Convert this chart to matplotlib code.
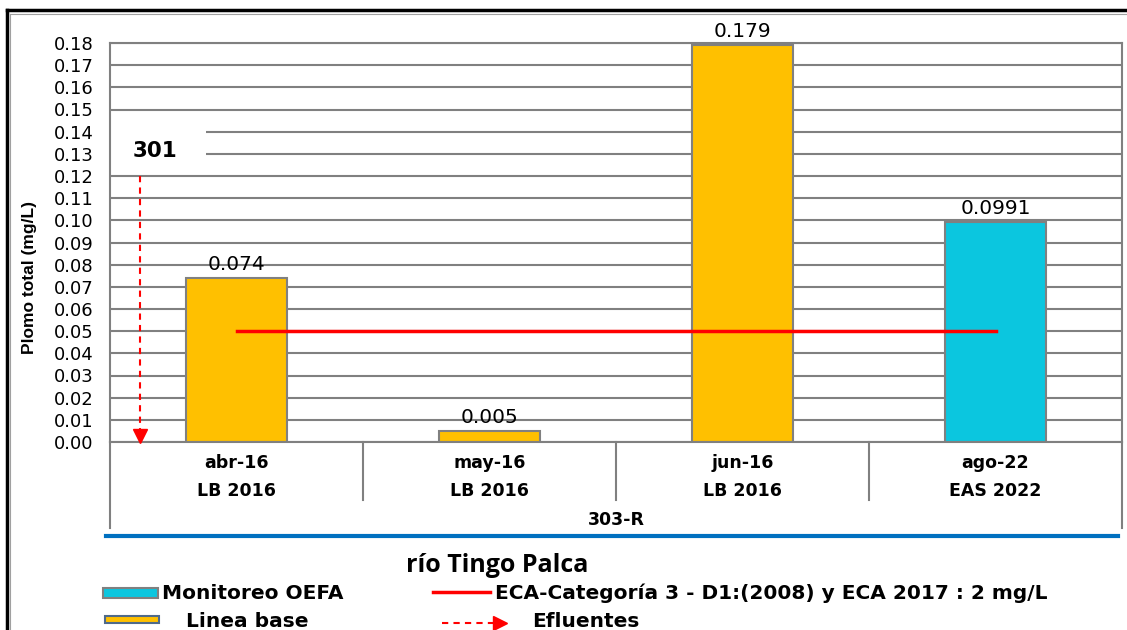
import numpy as np
import matplotlib
matplotlib.use("Agg")
import matplotlib.pyplot as plt
from matplotlib import font_manager, transforms
from matplotlib.lines import Line2D
from matplotlib.patches import Rectangle

# ---------------- data ----------------
months = ["abr-16", "may-16", "jun-16", "ago-22"]
groups = ["LB 2016", "LB 2016", "LB 2016", "EAS 2022"]
station = "303-R"
values = [0.074, 0.005, 0.179, 0.0991]
value_labels = ["0.074", "0.005", "0.179", "0.0991"]
series = ["Linea base", "Linea base", "Linea base", "Monitoreo OEFA"]
eca_value = 0.05
eca_label = "ECA-Categoría 3 - D1:(2008) y ECA 2017 : 2 mg/L"
effluent_label = "Efluentes"
effluent_station = "301"
effluent_top = 0.12
river = "río Tingo Palca"
ylabel = "Plomo total (mg/L)"
yticks = np.round(np.arange(0, 0.1801, 0.01), 2)

series_colors = {"Linea base": "#FFC000", "Monitoreo OEFA": "#0BC6DF"}

# ---------------- fonts ----------------
avail = {f.name for f in font_manager.fontManager.ttflist}
narrow = "Liberation Sans Narrow" if "Liberation Sans Narrow" in avail else "Liberation Sans"
sans = "Liberation Sans"
wide = "DejaVu Sans"
title_font = "Open Sans" if "Open Sans" in avail else "Lato"

W, H = 1127, 630
fig = plt.figure(figsize=(W / 100, H / 100), dpi=100)
fig.patch.set_facecolor("white")


def fx(x):
    return x / W


def fy(y):
    return 1 - y / H


ax = fig.add_axes([fx(110), fy(442), fx(1122) - fx(110), fy(43) - fy(442)])
x = np.arange(len(months))
colors = [series_colors[s] for s in series]
ax.bar(x, values, width=0.4, color=colors, edgecolor="#808080", linewidth=1.5, zorder=2)

ax.set_xlim(-0.5, len(months) - 0.5)
ax.set_ylim(0, 0.18)
ax.set_yticks(yticks)
ax.set_yticklabels([f"{t:.2f}" for t in yticks], fontsize=13, family=wide)
ax.tick_params(axis="y", length=0, pad=12)
ax.set_xticks([])
ax.set_axisbelow(True)
ax.yaxis.grid(True, color="#808080", linewidth=1.5)
for sp in ax.spines.values():
    sp.set_color("#808080")
    sp.set_linewidth(1.5)

ax.set_ylabel(ylabel, fontsize=14 if narrow != sans else 12.5, fontweight="bold",
              family=narrow)
ax.yaxis.set_label_coords((fx(37) - fx(110)) / (fx(1122) - fx(110)),
                          (fy(277) - fy(442)) / (fy(43) - fy(442)))

# value labels
for xi, v, lab in zip(x, values, value_labels):
    ax.annotate(lab, (xi, v), xytext=(0, 3), textcoords="offset points",
                ha="center", va="bottom", fontsize=14.5, family=wide, zorder=5)

# ECA line
ax.plot([x[0], x[-1]], [eca_value, eca_value], color="#FF0000", linewidth=2.5, zorder=3)

# effluent arrow and label
ex = -0.5 + 30 / 253
ax.plot([ex, ex], [effluent_top, 0.004], color="#FF0000", linestyle=(0, (3, 2.5)),
        linewidth=1.5, zorder=3)
ax.plot([ex], [0.0025], marker="v", color="#FF0000", markersize=10, zorder=4,
        clip_on=False)
ax.add_patch(Rectangle((-0.5, 0.1245), (206 - 110) / 253, 0.021, facecolor="white",
                       edgecolor="none", zorder=1))
ax.text(-0.5 + 45 / 253, 0.1313, effluent_station, ha="center", va="center",
        fontsize=15.5, fontweight="bold", family=wide, zorder=5)

# category labels below axis
bt = transforms.blended_transform_factory(ax.transData, fig.transFigure)
for xi, m, g in zip(x, months, groups):
    ax.text(xi, fy(463), m, transform=bt, ha="center", va="center", fontsize=12.5,
            fontweight="bold", family=wide)
    ax.text(xi, fy(491), g, transform=bt, ha="center", va="center", fontsize=12.5,
            fontweight="bold", family=wide)
ax.text((x[0] + x[-1]) / 2, fy(520), station, transform=bt, ha="center", va="center",
        fontsize=12.5, fontweight="bold", family=wide)
for b in np.arange(0.5, len(months) - 1, 1.0):
    ax.add_line(Line2D([b, b], [fy(442), fy(500)], transform=bt, color="#808080",
                       linewidth=1.5, clip_on=False))
for b in [-0.5, len(months) - 0.5]:
    ax.add_line(Line2D([b, b], [fy(442), fy(528)], transform=bt, color="#808080",
                       linewidth=1.5, clip_on=False))

# blue river line
fig.add_artist(Line2D([fx(106), fx(1118)], [fy(536), fy(536)], color="#0070C0", linewidth=3))

# outer frame
fig.add_artist(Line2D([fx(7), fx(1127)], [fy(10), fy(10)], color="black", linewidth=2.5))
fig.add_artist(Line2D([fx(7), fx(7)], [fy(10), fy(630)], color="black", linewidth=2.5))
fig.add_artist(Line2D([fx(10), fx(1127)], [fy(13.5), fy(13.5)], color="#A0A0A0", linewidth=0.8))
fig.add_artist(Line2D([fx(10), fx(10)], [fy(13.5), fy(630)], color="#A0A0A0", linewidth=0.8))

# legend (manual)
fig.text(fx(497), fy(566), river, ha="center", va="center", fontsize=18,
         fontweight="bold", family=title_font)
fig.add_artist(Rectangle((fx(103), fy(598)), fx(55), fy(588) - fy(598),
                         facecolor=series_colors["Monitoreo OEFA"], edgecolor="#808080",
                         linewidth=1.5))
fig.text(fx(162), fy(593.5), "Monitoreo OEFA", ha="left", va="center", fontsize=14.5,
         fontweight="bold", family=wide)
fig.add_artist(Rectangle((fx(105), fy(623)), fx(54), fy(616) - fy(623),
                         facecolor=series_colors["Linea base"], edgecolor="#4F6A8A",
                         linewidth=1.5))
fig.text(fx(186), fy(621.5), "Linea base", ha="left", va="center", fontsize=14.5,
         fontweight="bold", family=wide)
fig.add_artist(Line2D([fx(433), fx(490)], [fy(592), fy(592)], color="#FF0000", linewidth=2.5))
fig.text(fx(495), fy(593.5), eca_label, ha="left", va="center", fontsize=14.5,
         fontweight="bold", family=wide)
fig.add_artist(Line2D([fx(442), fx(495)], [fy(623), fy(623)], color="#FF0000",
                      linewidth=1.5, linestyle=(0, (3, 2.5))))
fig.add_artist(Line2D([fx(500)], [fy(623)], color="#FF0000", marker=">", markersize=10,
                      linestyle="none"))
fig.text(fx(532), fy(621.5), effluent_label, ha="left", va="center", fontsize=14.5,
         fontweight="bold", family=wide)

fig.savefig("out.png", dpi=100)
